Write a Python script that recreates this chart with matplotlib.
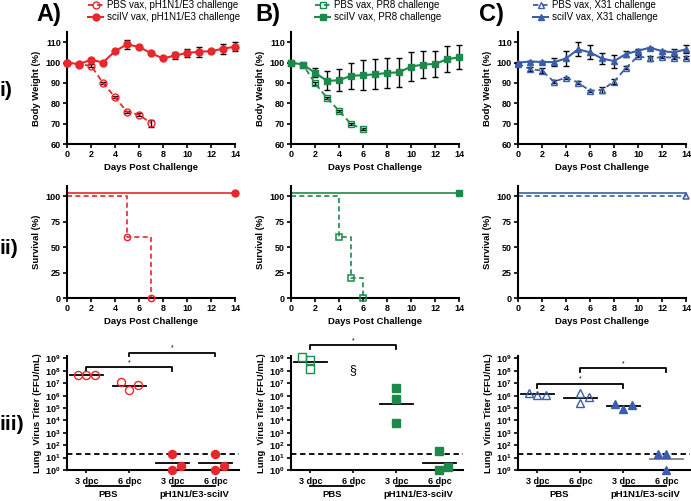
import matplotlib
matplotlib.use("Agg")
import matplotlib.pyplot as plt
import matplotlib.transforms as mtransforms
from matplotlib.ticker import NullLocator
import numpy as np

plt.rcParams['font.family'] = ['Liberation Sans', 'DejaVu Sans']
plt.rcParams['font.weight'] = 'bold'
plt.rcParams['axes.labelweight'] = 'bold'
plt.rcParams['mathtext.fontset'] = 'custom'
plt.rcParams['mathtext.rm'] = 'Liberation Sans:bold'
plt.rcParams['mathtext.bf'] = 'Liberation Sans:bold'

# ---- 체중 데이터 (Body Weight %) ----
days = list(range(15))

a_sciiv_wt = [100, 99.2, 101.4, 100, 105.6, 108.9, 107.7, 104.6, 102, 103.5, 104.7, 105.3, 105.6, 106.8, 107.8]
a_sciiv_err = [0.4, 0.8, 0.5, 0.5, 0.5, 2.2, 0.6, 0.5, 0.4, 1.8, 1.8, 2.4, 0.8, 2.5, 2.3]
a_pbs_wt = [100, 99, 98.5, 90, 83, 75.8, 74.4, 70.2]
a_pbs_err = [0.3, 0.5, 0.6, 0.6, 0.5, 0.5, 0.6, 1.8]

b_sciiv_wt = [100, 99, 95, 91, 91.3, 93.5, 93.8, 94.2, 94.9, 95.2, 98, 99, 99.3, 101.6, 102.6]
b_sciiv_err = [0.3, 0.8, 2.3, 4.7, 5.3, 6.5, 7.5, 7.4, 7.2, 7.2, 7.0, 6.5, 6.5, 6.3, 5.8]
b_pbs_wt = [100, 99, 89.8, 82.7, 76.3, 69.8, 67.3]
b_pbs_err = [0.3, 0.5, 0.6, 0.6, 0.6, 0.6, 0.6]

c_sciiv_wt = [100, 100.5, 100.3, 100.2, 102, 106.5, 105, 102, 100.7, 104.2, 105.8, 107.3, 105.6, 105, 106.5]
c_sciiv_err = [0.3, 0.4, 0.5, 2.0, 3.7, 3.4, 3.5, 2.6, 3.2, 1.6, 0.8, 0.5, 0.8, 1.5, 2.0]
c_pbs_wt = [99.5, 96.8, 96, 90.6, 92.6, 90.2, 86.1, 86.6, 90.6, 97.4, 103.1, 102, 102.7, 102.4, 102.4]
c_pbs_err = [0.3, 0.8, 1.2, 0.6, 0.5, 0.5, 0.6, 1.5, 1.2, 0.8, 0.6, 1.0, 0.6, 0.6, 0.6]

# ---- 생존 데이터 (Survival %) ----
sciiv_surv_days = [0, 14]
sciiv_surv = [100, 100]
a_pbs_surv_days = [0, 5, 7]
a_pbs_surv = [100, 60, 0]
b_pbs_surv_days = [0, 4, 5, 6]
b_pbs_surv = [100, 60, 20, 0]
c_pbs_surv_days = [0, 14]
c_pbs_surv = [100, 100]

# ---- 폐 바이러스 역가 (FFU/mL) ----
titer_groups = ['3 dpc', '6 dpc', '3 dpc', '6 dpc']
titer_vaccines = ['PBS', 'pH1N1/E3-sciIV']

a_titer = [[4.8e7, 4.5e7, 4.8e7], [1.2e7, 3.0e6, 7.4e6], [20, 1, 2.1], [20, 1, 2.1]]
a_jitter = [[-0.2, 0, 0.2], [-0.2, 0, 0.2], [0, 0, 0.2], [0, 0, 0.2]]
b_titer = [[1.4e9, 7.2e8, 1.3e8], [], [3.8e6, 5.6e5, 5.9e3], [33, 1, 1.9]]
b_jitter = [[-0.2, 0, 0], [], [0, 0, 0], [0, 0, 0.2]]
c_titer = [[1.5e6, 1.2e6, 1.2e6], [1.7e6, 2.4e5, 7.1e5], [2.1e5, 8.9e4, 1.7e5], [19, 19, 1]]
c_jitter = [[-0.2, 0, 0.2], [0, 0, 0.2], [-0.2, 0, 0.2], [-0.2, 0, 0]]

detect_limit = 20
# 유의성 브래킷: (시작 그룹, 끝 그룹, log10 높이)
a_brackets = [(0, 2, 8.28), (1, 3, 9.48)]
b_brackets = [(0, 2, 10.05)]
c_brackets = [(0, 2, 6.96), (1, 3, 8.2)]

RED = '#e8272c'
GREEN = '#1c8a4a'
BLUE = '#3b5dab'

W, H = 691, 501
fig = plt.figure(figsize=(W / 100, H / 100), dpi=100)


def px_axes(left, top, width, height):
    return fig.add_axes([left / W, 1 - (top + height) / H, width / W, height / H])


def style_axes(ax):
    for s in ['top', 'right']:
        ax.spines[s].set_visible(False)
    for s in ['left', 'bottom']:
        ax.spines[s].set_linewidth(1.5)
    ax.tick_params(width=1.2, length=3, labelsize=6.5, pad=1.5)


col_left = [67, 291, 518]
colors = [RED, GREEN, BLUE]
markers = ['o', 's', '^']


# 1. 체중 그래프
def plot_weight(ax, color, marker, sci, sci_err, pbs, pbs_err):
    eb_pbs = ax.errorbar(days[:len(pbs)], pbs, yerr=pbs_err, color=color, marker=marker, ms=5,
                         mfc='none', mew=1.0, lw=1.3, ls=(0, (3, 2)), ecolor='black',
                         elinewidth=1, capsize=2.5, capthick=1, clip_on=False, zorder=3)
    eb_sci = ax.errorbar(days, sci, yerr=sci_err, color=color, marker=marker, ms=5,
                         lw=1.5, ecolor='black', elinewidth=1, capsize=2.5, capthick=1,
                         clip_on=False, zorder=4)
    ax.set_xlim(0, 14)
    ax.set_ylim(60, 115)
    ax.set_xticks(range(0, 15, 2))
    ax.set_yticks(range(60, 111, 10))
    ax.set_xlabel('Days Post Challenge', fontsize=6.8, labelpad=3)
    ax.set_ylabel('Body Weight (%)', fontsize=6.8, labelpad=3)
    style_axes(ax)
    return eb_pbs[0], eb_sci[0]


# 2. 생존 그래프
def plot_survival(ax, color, marker, pbs_days, pbs_surv):
    ax.step(pbs_days, pbs_surv, where='post', color=color, lw=1.2, ls=(0, (3, 2)), clip_on=False)
    ax.plot(pbs_days[1:], pbs_surv[1:], ls='none', marker=marker, ms=4.5, mfc='none',
            mec=color, mew=1.1, clip_on=False, zorder=4)
    # 겹치는 곡선이 보이도록 scIIV 선을 살짝 위로 표시
    sci_y = [v + 3 for v in sciiv_surv]
    ax.plot(sciiv_surv_days, sci_y, color=color, lw=1.2, clip_on=False)
    if pbs_surv[-1] != 100:
        ax.plot(sciiv_surv_days[-1:], sci_y[-1:], marker=marker, ms=5, color=color,
                ls='none', clip_on=False, zorder=4)
    ax.set_xlim(0, 14)
    ax.set_ylim(0, 110)
    ax.set_xticks(range(0, 15, 2))
    ax.set_yticks([0, 25, 50, 75, 100])
    ax.set_xlabel('Days Post Challenge', fontsize=6.8, labelpad=3)
    ax.set_ylabel('Survival (%)', fontsize=6.8, labelpad=3)
    style_axes(ax)


# 3. 폐 바이러스 역가 그래프
def plot_titer(ax, color, marker, titers, jitter, brackets, mean_colors, section=False):
    ax.set_yscale('log')
    for i, (vals, jit) in enumerate(zip(titers, jitter)):
        if not vals:
            continue
        x = [i + j for j in jit]
        face = 'none' if i < 2 else color
        ax.plot(x, vals, ls='none', marker=marker, ms=5.8, mec=color, mfc=face,
                mew=1.0, clip_on=False, zorder=4)
        gmean = 10 ** np.mean(np.log10(vals))
        ax.plot([i - 0.38, i + 0.38], [gmean, gmean], color=mean_colors[i], lw=1.3, zorder=3)
    ax.axhline(detect_limit, color='black', lw=1.3, ls=(0, (3, 2)))
    for g0, g1, h in brackets:
        top = 10 ** h
        low = 10 ** (h - 0.32)
        ax.plot([g0, g0, g1, g1], [low, top, top, low], color='black', lw=1.3, clip_on=False)
        ax.text((g0 + g1) / 2, 10 ** (h + 0.12), '*', ha='center', va='bottom', fontsize=5,
                fontweight='normal')
    if section:
        ax.text(1, 10 ** 8.1, '§', ha='center', va='center', fontsize=9, fontweight='normal')
    ax.set_xlim(-0.45, 3.55)
    ax.set_ylim(1, 10 ** 9.2)
    ax.set_xticks(range(4))
    ax.set_xticklabels(titer_groups)
    ax.set_yticks([10 ** k for k in range(10)])
    ax.set_yticklabels([r'$\mathbf{10^{%d}}$' % k for k in range(10)])
    ax.yaxis.set_minor_locator(NullLocator())
    ax.set_ylabel('Lung  Virus Titer (FFU/mL)', fontsize=6.8, labelpad=2)
    style_axes(ax)
    ax.tick_params(axis='x', length=2, pad=3)
    # 백신 그룹 표시 (PBS / sciIV)
    tr = mtransforms.blended_transform_factory(ax.transData, ax.transAxes)
    for k, name in enumerate(titer_vaccines):
        ax.plot([2 * k, 2 * k + 1], [-0.14, -0.14], color='black', lw=1.3,
                transform=tr, clip_on=False)
        ax.text(2 * k + 0.5, -0.215, name, transform=tr, ha='center', va='center', fontsize=6.8)


weight_data = [(a_sciiv_wt, a_sciiv_err, a_pbs_wt, a_pbs_err),
               (b_sciiv_wt, b_sciiv_err, b_pbs_wt, b_pbs_err),
               (c_sciiv_wt, c_sciiv_err, c_pbs_wt, c_pbs_err)]
surv_data = [(a_pbs_surv_days, a_pbs_surv), (b_pbs_surv_days, b_pbs_surv),
             (c_pbs_surv_days, c_pbs_surv)]
titer_data = [(a_titer, a_jitter, a_brackets), (b_titer, b_jitter, b_brackets),
              (c_titer, c_jitter, c_brackets)]
legend_labels = [['PBS vax, pH1N1/E3 challenge', 'sciIV vax, pH1N1/E3 challenge'],
                 ['PBS vax, PR8 challenge', 'sciIV vax, PR8 challenge'],
                 ['PBS vax, X31 challenge', 'sciIV vax, X31 challenge']]
legend_x = [88, 315, 533]
mean_line_colors = [['black'] * 4, ['black'] * 4, ['black', 'black', 'black', '#808080']]

for c in range(3):
    ax1 = px_axes(col_left[c], 32, 168, 112)
    sci, sci_err, pbs, pbs_err = weight_data[c]
    h_pbs, h_sci = plot_weight(ax1, colors[c], markers[c], sci, sci_err, pbs, pbs_err)

    ax2 = px_axes(col_left[c], 186, 168, 112)
    plot_survival(ax2, colors[c], markers[c], *surv_data[c])

    ax3 = px_axes(col_left[c], 356, 172, 114)
    t, j, br = titer_data[c]
    plot_titer(ax3, colors[c], markers[c], t, j, br, mean_line_colors[c], section=(c == 1))

    fig.legend([h_pbs, h_sci], legend_labels[c], loc='upper left',
               bbox_to_anchor=(legend_x[c] / W, 1 - 0.5 / H), frameon=False,
               prop={'size': 7, 'weight': 'normal'}, handlelength=1.55,
               handletextpad=0.4, labelspacing=0.2, borderpad=0, borderaxespad=0)

# 패널 라벨
for lbl, x in zip(['A)', 'B)', 'C)'], [49, 268, 491]):
    fig.text(x / W, 1 - 14 / H, lbl, ha='center', va='center', fontsize=17, fontweight='bold')
for lbl, y in zip(['i)', 'ii)', 'iii)'], [90, 248, 425]):
    fig.text(-1 / W, 1 - y / H, lbl, ha='left', va='center', fontsize=15, fontweight='bold')

fig.savefig('out.png', dpi=100)
